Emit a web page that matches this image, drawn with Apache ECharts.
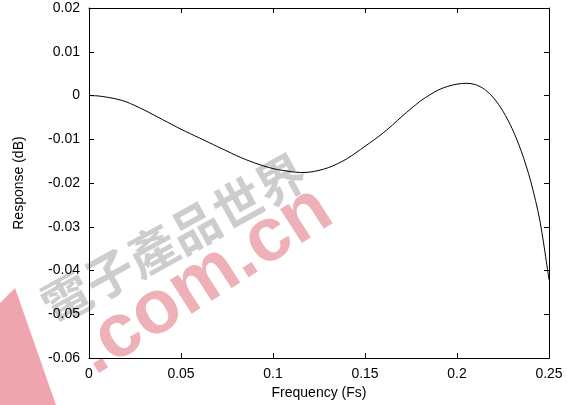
<!DOCTYPE html>
<html>
<head>
<meta charset="utf-8">
<script src="https://cdn.jsdelivr.net/npm/echarts@6/dist/echarts.min.js"></script>
<style>html,body{margin:0;padding:0;background:#fff}#c{width:567px;height:405px}</style>
</head>
<body>
<div id="c"></div>
<script>
const freq = [0, 0.005, 0.01, 0.015, 0.02, 0.025, 0.03, 0.035, 0.04, 0.045, 0.05, 0.055, 0.06, 0.065, 0.07, 0.075, 0.08, 0.085, 0.09, 0.095, 0.10, 0.105, 0.11, 0.115, 0.12, 0.125, 0.13, 0.135, 0.14, 0.145, 0.15, 0.155, 0.16, 0.165, 0.17, 0.175, 0.18, 0.185, 0.19, 0.195, 0.20, 0.205, 0.21, 0.215, 0.22, 0.225, 0.23, 0.235, 0.24, 0.245, 0.25];
const resp = [0, -0.0001, -0.0004, -0.0008, -0.0014, -0.0023, -0.0033, -0.0044, -0.0055, -0.0066, -0.0077, -0.0087, -0.0097, -0.0107, -0.0117, -0.0127, -0.0137, -0.0146, -0.0154, -0.0161, -0.0167, -0.0171, -0.0174, -0.0176, -0.0175, -0.0171, -0.0165, -0.0156, -0.0145, -0.0131, -0.0116, -0.0101, -0.0085, -0.0067, -0.0048, -0.0030, -0.0013, 0.0001, 0.0013, 0.0021, 0.0026, 0.0028, 0.0025, 0.0014, -0.0006, -0.0036, -0.0076, -0.0128, -0.0195, -0.0285, -0.0421];
const xTicks = {min: 0, max: 0.25, interval: 0.05};
const yTicks = {min: -0.06, max: 0.02, interval: 0.01};
const xTitle = 'Frequency (Fs)';
const yTitle = 'Response (dB)';
const watermarkRed = '.com.cn';
const watermarkGray = '電子產品世界';

const chart = echarts.init(document.getElementById('c'));
const font = 'Liberation Sans, Arial, sans-serif';
const axisCommon = {
  axisLine: {show: true, onZero: false, lineStyle: {color: '#000', width: 1}},
  axisTick: {show: true, inside: true, length: 5, lineStyle: {color: '#000'}},
  splitLine: {show: false}
};
chart.setOption({
  animation: false,
  backgroundColor: '#fff',
  grid: {left: 89, right: 18, top: 8, bottom: 43, containLabel: false},
  graphic: [
    {type: 'polygon', z: 0, silent: true, shape: {points: [[0, 303], [15, 288], [56, 405], [0, 405]]}, style: {fill: '#ea8f99', opacity: 0.8}},
    {type: 'text', z: 0, silent: true, x: 104, y: 390, rotation: 0.57, style: {text: watermarkRed, fill: '#eba3aa', font: 'bold 76px Liberation Sans, Arial, sans-serif', textVerticalAlign: 'bottom', opacity: 0.85}},
    {type: 'text', z: 0, silent: true, x: 45, y: 310, rotation: 0.506, style: {text: watermarkGray, fill: '#c4c4c4', font: 'bold 49px "Noto Sans CJK TC", sans-serif', textVerticalAlign: 'middle', opacity: 0.85}}
  ],
  xAxis: [
    Object.assign({type: 'value', position: 'bottom', min: xTicks.min, max: xTicks.max, interval: xTicks.interval,
      name: xTitle, nameLocation: 'middle', nameGap: 21,
      nameTextStyle: {color: '#000', fontSize: 14, fontFamily: font},
      axisLabel: {color: '#000', fontSize: 14, fontFamily: font, margin: 9}}, axisCommon),
    Object.assign({type: 'value', position: 'top', min: xTicks.min, max: xTicks.max, interval: xTicks.interval,
      axisLabel: {show: false}}, axisCommon)
  ],
  yAxis: [
    Object.assign({type: 'value', position: 'left', min: yTicks.min, max: yTicks.max, interval: yTicks.interval,
      name: yTitle, nameLocation: 'middle', nameGap: 63,
      nameTextStyle: {color: '#000', fontSize: 14, fontFamily: font},
      axisLabel: {color: '#000', fontSize: 14, fontFamily: font, margin: 9}}, axisCommon),
    Object.assign({type: 'value', position: 'right', min: yTicks.min, max: yTicks.max, interval: yTicks.interval,
      axisLabel: {show: false}}, axisCommon)
  ],
  series: [{
    type: 'line',
    xAxisIndex: 0,
    yAxisIndex: 0,
    data: freq.map((f, i) => [f, resp[i]]),
    smooth: 0.3,
    showSymbol: false,
    lineStyle: {color: '#000', width: 1},
    z: 5
  }]
});
</script>
</body>
</html>
